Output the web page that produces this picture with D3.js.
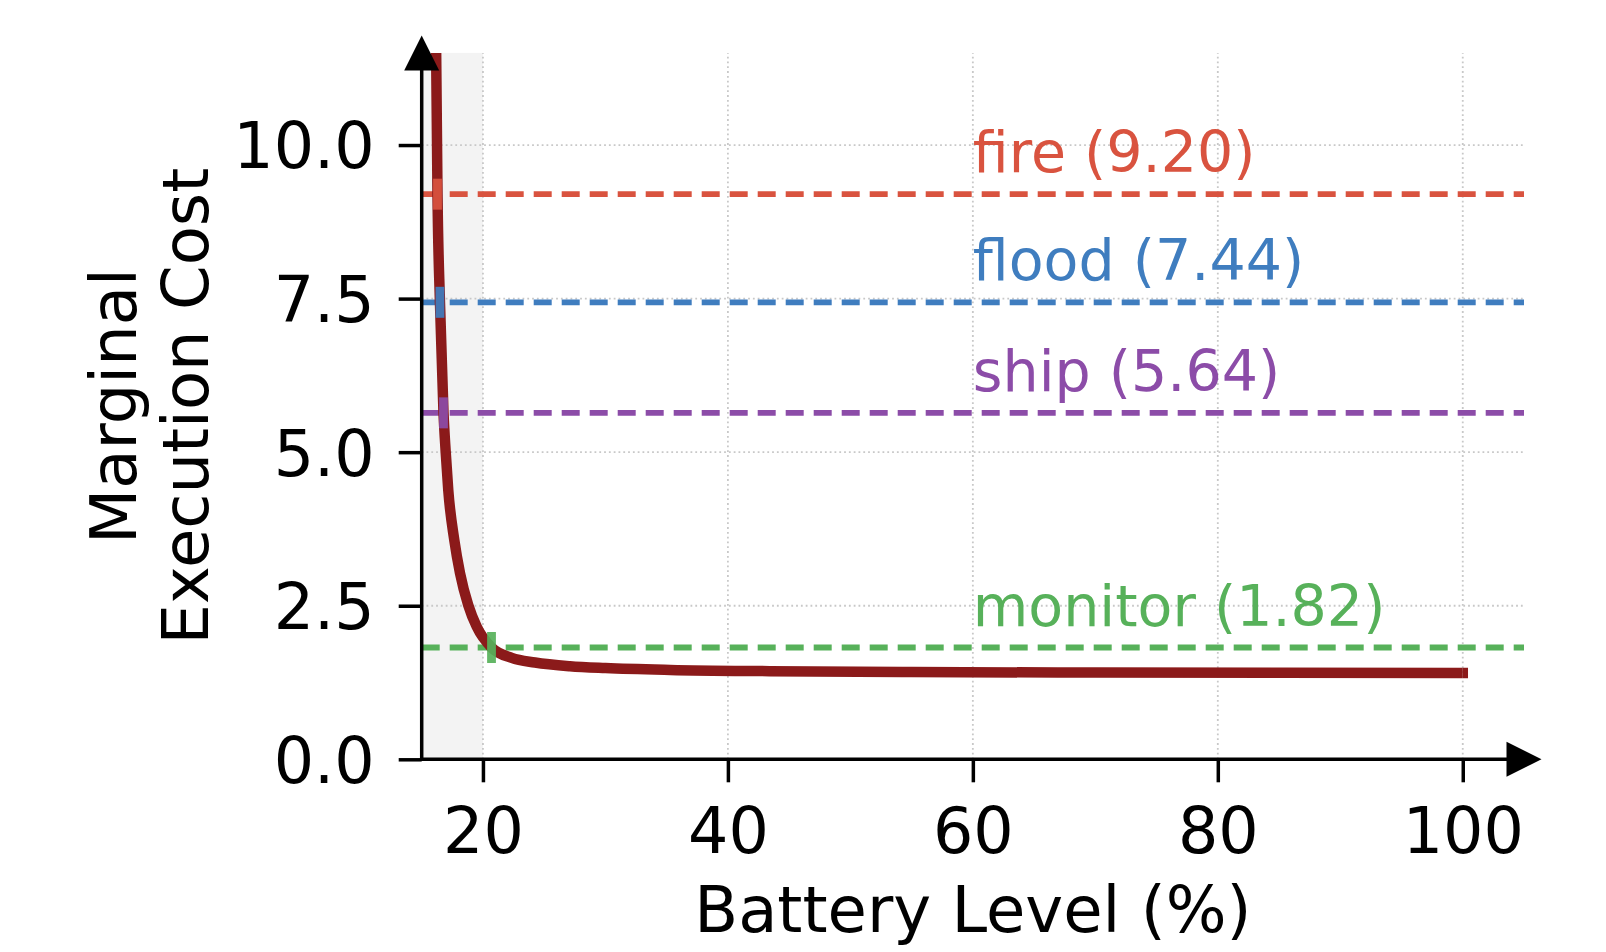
<!DOCTYPE html>
<html>
<head>
<meta charset="utf-8">
<script src="https://cdn.jsdelivr.net/npm/d3@7/dist/d3.min.js"></script>
<style>
  html, body { margin: 0; padding: 0; background: #ffffff; }
  svg { display: block; }
  text { font-family: "DejaVu Sans", sans-serif; }
</style>
</head>
<body>
<svg id="chart" width="1606" height="952"></svg>
<script>
// ---------------- data ----------------
const batteryLevel   = [16.18, 16.29, 16.49, 16.78, 16.96, 17.17, 17.66, 18.13, 18.80, 19.49, 20.70, 22.35, 24.25, 27.1, 30.0, 35.3, 43.4, 55.0, 70.0, 85.0, 100.0];
const executionCost  = [11.50, 9.20, 7.44, 5.64, 5.00, 4.38, 3.57, 3.03, 2.51, 2.16, 1.82, 1.65, 1.575, 1.515, 1.485, 1.455, 1.435, 1.42, 1.412, 1.408, 1.405];

const thresholdNames  = ["fire", "flood", "ship", "monitor"];
const thresholdValues = [9.20, 7.44, 5.64, 1.82];
const crossingLevels  = [16.29, 16.49, 16.78, 20.70];

const shadedRange = [15, 20];
const xDomain = [15, 105];
const yDomain = [0, 11.5];
const xTicks = [20, 40, 60, 80, 100];
const yTicks = [0, 2.5, 5.0, 7.5, 10.0];
const xLabel = "Battery Level (%)";
const yLabelLines = ["Marginal", "Execution Cost"];

// ---------------- styles ----------------
const thresholdColor = d3.scaleOrdinal()
  .domain(thresholdNames)
  .range(["#d9533f", "#3f7dbf", "#8c4ca8", "#57b15a"]);
const curveColor = "#8b1a1a";

// ---------------- layout ----------------
const svg = d3.select("#chart");
const pL = 421.7, pR = 1524, pT = 52.9, pB = 759.3;

const x = d3.scaleLinear().domain(xDomain).range([pL, pR]);
const y = d3.scaleLinear().domain(yDomain).range([pB, pT]);

svg.append("defs").append("clipPath").attr("id", "plotclip")
  .append("rect")
  .attr("x", pL).attr("y", pT)
  .attr("width", pR - pL).attr("height", pB - pT);

// shaded low-battery region
svg.append("rect")
  .attr("x", x(shadedRange[0]))
  .attr("y", y(yDomain[1]))
  .attr("width", x(shadedRange[1]) - x(shadedRange[0]))
  .attr("height", y(yDomain[0]) - y(yDomain[1]))
  .attr("fill", "#f3f3f3");

// grid
const grid = svg.append("g");
grid.selectAll("line.gx").data(xTicks).join("line")
  .attr("class", "gx")
  .attr("x1", d => x(d)).attr("x2", d => x(d))
  .attr("y1", y(yDomain[0])).attr("y2", y(yDomain[1]))
  .attr("stroke", "#c8c8c8").attr("stroke-width", 1.8)
  .attr("stroke-dasharray", "1.8,3");
grid.selectAll("line.gy").data(yTicks).join("line")
  .attr("class", "gy")
  .attr("x1", x(xDomain[0])).attr("x2", x(xDomain[1]))
  .attr("y1", d => y(d)).attr("y2", d => y(d))
  .attr("stroke", "#c8c8c8").attr("stroke-width", 1.8)
  .attr("stroke-dasharray", "1.8,3");

// threshold dashed lines
svg.append("g").selectAll("line").data(thresholdNames).join("line")
  .attr("x1", x(xDomain[0])).attr("x2", x(xDomain[1]))
  .attr("y1", (d, i) => y(thresholdValues[i]))
  .attr("y2", (d, i) => y(thresholdValues[i]))
  .attr("stroke", d => thresholdColor(d))
  .attr("stroke-width", 5.8)
  .attr("stroke-dasharray", "18,10");

// threshold labels
svg.append("g").selectAll("text").data(thresholdNames).join("text")
  .attr("x", x(60))
  .attr("y", (d, i) => y(thresholdValues[i]) - 22)
  .attr("fill", d => thresholdColor(d))
  .attr("font-size", 57)
  .text((d, i) => `${d} (${thresholdValues[i].toFixed(2)})`);

// cost curve
const line = d3.line()
  .x((d, i) => x(batteryLevel[i]))
  .y(d => y(d))
  .curve(d3.curveMonotoneX);
svg.append("path")
  .datum(executionCost)
  .attr("clip-path", "url(#plotclip)")
  .attr("d", line)
  .attr("fill", "none")
  .attr("stroke", curveColor)
  .attr("stroke-width", 10.5)
  .attr("stroke-linecap", "butt")
  .attr("stroke-linejoin", "round");
// projecting cap at right end (matplotlib style)
svg.append("rect")
  .attr("x", x(batteryLevel[batteryLevel.length - 1]))
  .attr("y", y(executionCost[executionCost.length - 1]) - 5.25)
  .attr("width", 5.25).attr("height", 10.5)
  .attr("fill", curveColor);

// crossing markers
svg.append("g").selectAll("rect").data(thresholdNames).join("rect")
  .attr("x", (d, i) => x(crossingLevels[i]) - 4.4)
  .attr("y", (d, i) => y(thresholdValues[i]) - 15.5)
  .attr("width", 8.8).attr("height", 31)
  .attr("fill", d => thresholdColor(d))
  .attr("opacity", 0.92);

// axes
const yAxis = d3.axisLeft(y).tickValues(yTicks).tickSize(23).tickPadding(24)
  .tickFormat(d3.format(".1f"));
const gy = svg.append("g").attr("transform", `translate(${pL},0)`).call(yAxis);
const xAxis = d3.axisBottom(x).tickValues(xTicks).tickSize(23).tickPadding(27)
  .tickFormat(d3.format("d"));
const gx = svg.append("g").attr("transform", `translate(0,${pB})`).call(xAxis);

[gx, gy].forEach(g => {
  g.select(".domain").remove();
  g.selectAll(".tick line").attr("stroke", "#000").attr("stroke-width", 3.5);
  g.selectAll(".tick text").attr("fill", "#000").attr("font-size", 63.5)
    .attr("font-family", "DejaVu Sans, sans-serif");
});
gy.selectAll(".tick text").attr("dy", "0.36em");
gx.selectAll(".tick text").attr("dy", "0.69em");

// spines
svg.append("line")
  .attr("x1", pL).attr("x2", pL)
  .attr("y1", pB + 1.75).attr("y2", pT)
  .attr("stroke", "#000").attr("stroke-width", 3.5);
svg.append("line")
  .attr("x1", pL - 1.75).attr("x2", pR)
  .attr("y1", pB).attr("y2", pB)
  .attr("stroke", "#000").attr("stroke-width", 3.5);

// arrow heads
const ah = 17.5;
svg.append("path")
  .attr("d", `M${pR + ah},${pB} L${pR - ah},${pB - ah} L${pR - ah},${pB + ah} Z`)
  .attr("fill", "#000");
svg.append("path")
  .attr("d", `M${pL},${pT - ah} L${pL - ah},${pT + ah} L${pL + ah},${pT + ah} Z`)
  .attr("fill", "#000");

// axis labels
svg.append("text")
  .attr("x", (pL + pR) / 2).attr("y", 932)
  .attr("text-anchor", "middle").attr("font-size", 64)
  .attr("fill", "#000")
  .text(xLabel);

const yl = svg.append("g");
const yLabelBaselines = [136, 208];
yLabelLines.forEach((t, i) => {
  yl.append("text")
    .attr("transform", `translate(${yLabelBaselines[i]},${(pT + pB) / 2}) rotate(-90)`)
    .attr("text-anchor", "middle").attr("font-size", 64)
    .attr("fill", "#000")
    .text(t);
});
</script>
</body>
</html>
